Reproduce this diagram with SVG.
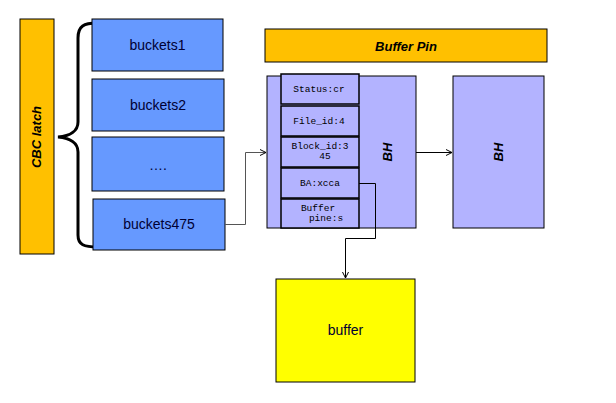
<svg xmlns="http://www.w3.org/2000/svg" width="616" height="403" viewBox="0 0 616 403">
<style>
.bk{fill:#6699FF;stroke:#000;stroke-width:1}
.bkt{font-family:"Liberation Sans",Arial,sans-serif;font-size:14px;fill:#000033;text-anchor:middle}
.bh{fill:#B3B3FF;stroke:#000;stroke-width:1}
.fld{fill:#B3B3FF;stroke:#000;stroke-width:1.5}
.mono{font-family:"Liberation Mono","Courier New",monospace;font-size:9.5px;fill:#000;text-anchor:middle}
.bi{font-family:"Liberation Sans",Arial,sans-serif;font-size:13px;font-weight:bold;font-style:italic;fill:#000;text-anchor:middle}
.ln{fill:none;stroke:#000;stroke-width:1}
</style>
<defs>
<marker id="ah" markerWidth="8" markerHeight="8" refX="7" refY="4" orient="auto" markerUnits="userSpaceOnUse">
<path d="M1,1 L7,4 L1,7" fill="none" stroke="#000" stroke-width="1"/>
</marker>
</defs>
<rect width="616" height="403" fill="#fff"/>
<g id="cbc-latch">
<rect x="20" y="19" width="34" height="235" fill="#FFC000" stroke="#000" stroke-width="1"/>
<text class="bi" transform="translate(41,137) rotate(-90)">CBC latch</text>
</g>
<g id="brace">
<path d="M97,23 C84,23 78,26 78,38 L78,122 C78,131 70,136 58,137 C70,138 78,143 78,152 L78,235 C78,245 84,247 98,247" fill="none" stroke="#000" stroke-width="3"/>
</g>
<g id="buckets1">
<rect class="bk" x="92" y="19" width="131" height="52"/>
<text class="bkt" x="157.5" y="50">buckets1</text>
</g>
<g id="buckets2">
<rect class="bk" x="92" y="79" width="132" height="52"/>
<text class="bkt" x="158" y="110">buckets2</text>
</g>
<g id="buckets-dots">
<rect class="bk" x="92" y="137" width="132" height="54"/>
<text class="bkt" x="158" y="170">….</text>
</g>
<g id="buckets475">
<rect class="bk" x="93" y="199" width="132" height="51"/>
<text class="bkt" x="159" y="229">buckets475</text>
</g>
<g id="buffer-pin">
<rect x="265" y="29" width="282" height="33" fill="#FFC000" stroke="#000" stroke-width="1"/>
<text class="bi" x="406" y="51">Buffer Pin</text>
</g>
<g id="bh1">
<rect class="bh" x="267" y="76" width="149" height="152"/>
<text class="bi" transform="translate(392,152) rotate(-90)">BH</text>
</g>
<g id="status">
<rect class="fld" x="281" y="74" width="78" height="30"/>
<text class="mono" x="319" y="92">Status:cr</text>
</g>
<g id="file-id">
<rect class="fld" x="281" y="106" width="78" height="30"/>
<text class="mono" x="319" y="124">File_id:4</text>
</g>
<g id="block-id">
<rect class="fld" x="281" y="137" width="78" height="30"/>
<text class="mono" x="320" y="149">Block_id:3</text>
<text class="mono" x="325" y="159">45</text>
</g>
<g id="ba">
<rect class="fld" x="281" y="168" width="78" height="30"/>
<text class="mono" x="320" y="186">BA:xcca</text>
</g>
<g id="buffer-pine">
<rect class="fld" x="281" y="199" width="78" height="29"/>
<text class="mono" x="318" y="211">Buffer</text>
<text class="mono" x="326" y="221">pine:s</text>
</g>
<g id="bh2">
<rect class="bh" x="453" y="76" width="91" height="152"/>
<text class="bi" transform="translate(503,152) rotate(-90)">BH</text>
</g>
<g id="buffer">
<rect x="276" y="279" width="139" height="103" fill="#FFFF00" stroke="#000" stroke-width="1"/>
<text class="bkt" x="345.5" y="335" fill="#000">buffer</text>
</g>
<g id="connectors">
<path d="M225,224.5 H245.5 V152.5 H266" fill="none" stroke="#555" stroke-width="1" marker-end="url(#ah)"/>
<path class="ln" d="M416,152.5 H452" marker-end="url(#ah)"/>
<path class="ln" d="M359,183.5 H375.5 V238.5 H345.5 V278" marker-end="url(#ah)"/>
</g>
</svg>
